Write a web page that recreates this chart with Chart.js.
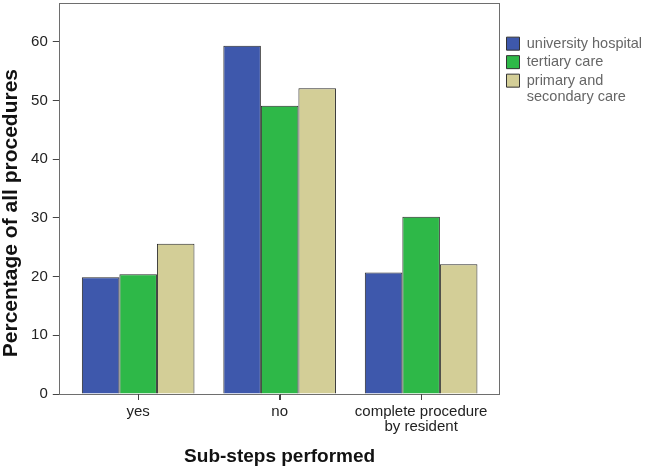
<!DOCTYPE html>
<html>
<head>
<meta charset="utf-8">
<script src="https://cdn.jsdelivr.net/npm/chart.js@4"></script>
<style>
html, body { margin: 0; padding: 0; background: #fff; }
</style>
</head>
<body>
<canvas id="bars" width="646" height="466"></canvas>
<script>
// data
var categories = ['yes', 'no', ['complete procedure', 'by resident']];
var seriesNames = ['university hospital', 'tertiary care', ['primary and', 'secondary care']];
var university = [19.9, 59.3, 20.7];
var tertiary = [20.4, 49.1, 30.2];
var primarySecondary = [25.6, 52.1, 22.1];
var yTicks = [0, 10, 20, 30, 40, 50, 60];

var colors = ['#3E58AC', '#2EB848', '#D3CE97'];
var font = 'Arial, "Liberation Sans", sans-serif';

function points(vals) {
	return vals.map(function (v, i) { return { x: i, y: v }; });
}

// grey frame round the plot area, plus the category tick marks
var frame = {
	id: 'frame',
	afterDatasetsDraw: function (chart) {
		var a = chart.chartArea, c = chart.ctx, xs = chart.scales.x;
		c.save();
		c.strokeStyle = '#6e6e6e';
		c.lineWidth = 1;
		c.strokeRect(Math.round(a.left) - 0.5, Math.round(a.top) + 0.5,
			Math.round(a.right - a.left), Math.round(a.bottom - a.top));
		c.strokeStyle = '#444';
		categories.forEach(function (cat, i) {
			var px = Math.round(xs.getPixelForValue(i)) + 0.5;
			c.beginPath();
			c.moveTo(px, Math.round(a.bottom));
			c.lineTo(px, Math.round(a.bottom) + 6);
			c.stroke();
		});
		c.restore();
	}
};

// push the legend a little away from the frame
var legendGap = {
	id: 'legendGap',
	afterLayout: function (chart) {
		chart.legend.left += 3;
		chart.legend.right += 3;
	}
};

var ctx = document.getElementById('bars');
var myChart = new Chart(ctx, {
	type: 'bar',
	data: {
		datasets: [university, tertiary, primarySecondary].map(function (vals, i) {
			return {
				label: [].concat(seriesNames[i]).join(' '),
				data: points(vals),
				backgroundColor: colors[i],
				borderColor: '#2a2a2a',
				borderWidth: 1,
				categoryPercentage: 0.796,
				barPercentage: 1.0
			};
		})
	},
	plugins: [frame, legendGap],
	options: {
		responsive: false,
		animation: false,
		layout: { padding: { top: 3, right: -3, bottom: 0, left: 0 } },
		plugins: {
			tooltip: { enabled: false },
			legend: {
				position: 'right',
				align: 'start',
				title: { display: true, text: ' ', padding: 7.5, font: { size: 12 } },
				labels: {
					boxWidth: 13,
					boxHeight: 13,
					padding: 4,
					color: '#222',
					font: { family: font, size: 14.5, lineHeight: 1.1 },
					generateLabels: function (chart) {
						return chart.data.datasets.map(function (ds, i) {
							return {
								text: seriesNames[i],
								fillStyle: colors[i],
								strokeStyle: '#333',
								lineWidth: 1,
								datasetIndex: i
							};
						});
					}
				}
			}
		},
		scales: {
			x: {
				type: 'linear',
				min: -0.554,
				max: 2.554,
				offset: false,
				afterBuildTicks: function (scale) {
					scale.ticks = categories.map(function (c, i) { return { value: i }; });
				},
				ticks: {
					color: '#222',
					padding: 4,
					maxRotation: 0,
					autoSkip: false,
					font: { family: font, size: 15, lineHeight: 1.0 },
					callback: function (v) { return categories[v]; }
				},
				grid: { offset: false, drawOnChartArea: false, tickLength: 6, color: '#444' },
				border: { display: false },
				title: {
					display: true,
					text: 'Sub-steps performed',
					color: '#111',
					padding: { top: 9, bottom: 0 },
					font: { family: font, size: 19, weight: 'bold', lineHeight: 1.0 }
				}
			},
			y: {
				min: 0,
				max: 66.6,
				afterBuildTicks: function (scale) {
					scale.ticks = yTicks.map(function (t) { return { value: t }; });
				},
				afterFit: function (scale) {
					scale.paddingTop = 0;
				},
				ticks: {
					color: '#222',
					padding: 5,
					font: { family: font, size: 15 }
				},
				grid: { drawOnChartArea: false, tickLength: 7, color: '#444' },
				border: { display: false },
				title: {
					display: true,
					// trailing spaces nudge the title down like in the original
					text: 'Percentage of all procedures     ',
					color: '#111',
					padding: { top: 0, bottom: 3 },
					font: { family: font, size: 21, weight: 'bold', lineHeight: 1.1 }
				}
			}
		}
	}
});
</script>
</body>
</html>
